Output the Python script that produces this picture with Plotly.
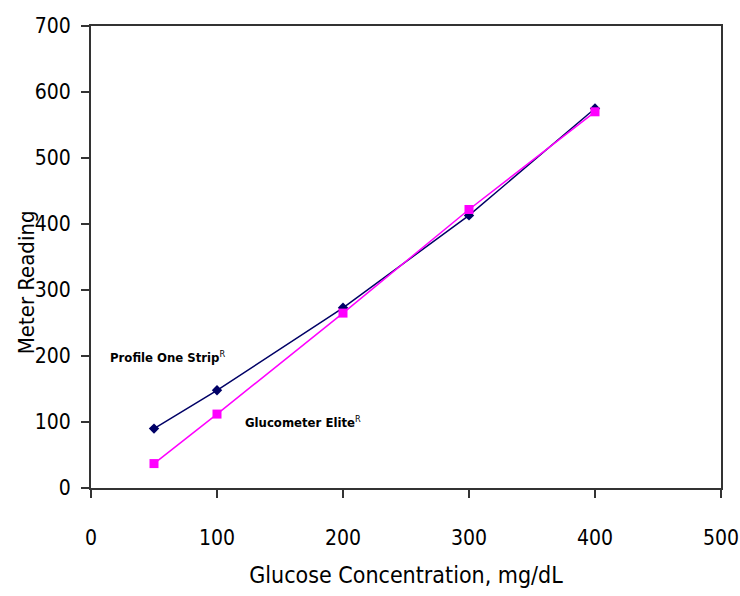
import plotly.graph_objects as go

conc = [50, 100, 200, 300, 400]
profile_one = [90, 148, 273, 413, 575]
glucometer_elite = [37, 112, 265, 422, 570]

x_ticks = [0, 100, 200, 300, 400, 500]
y_ticks = [0, 100, 200, 300, 400, 500, 600, 700]

FONT = "DejaVu Sans Condensed, Liberation Sans Narrow, Arial Narrow, sans-serif"

fig = go.Figure()
fig.add_trace(go.Scatter(
    x=conc, y=profile_one, mode="lines+markers", name="Profile One Strip",
    line=dict(color="#000066", width=1.5),
    marker=dict(symbol="diamond", size=8, color="#000066"),
))
fig.add_trace(go.Scatter(
    x=conc, y=glucometer_elite, mode="lines+markers", name="Glucometer Elite",
    line=dict(color="#FF00FF", width=1.5),
    marker=dict(symbol="square", size=9, color="#FF00FF"),
))

fig.add_annotation(x=61, y=198, xref="x", yref="y", showarrow=False,
                   text="<b>Profile One Strip</b><sup>R</sup>",
                   font=dict(family=FONT, size=13, color="#000000"))
fig.add_annotation(x=168, y=100, xref="x", yref="y", showarrow=False,
                   text="<b>Glucometer Elite</b><sup>R</sup>",
                   font=dict(family=FONT, size=13, color="#000000"))
fig.add_annotation(x=-0.101, y=0.446, xref="paper", yref="paper", xanchor="center", yanchor="middle",
                   showarrow=False, textangle=-90, text="Meter Reading",
                   font=dict(family=FONT, size=22, color="#000000"))

axis_common = dict(
    showgrid=False, zeroline=False, showline=True, linecolor="#333333", linewidth=2,
    mirror=True, ticks="outside", ticklen=8, tickwidth=2, tickcolor="#333333",
    tickfont=dict(family=FONT, size=21, color="#000000"),
    ticklabeloverflow="allow", automargin=False,
)

fig.update_layout(
    width=740, height=596,
    margin=dict(l=91, r=19, t=26, b=108),
    paper_bgcolor="white", plot_bgcolor="white",
    showlegend=False,
    xaxis=dict(range=[0, 500], tickvals=x_ticks, ticklabelstandoff=22,
               title=dict(text="Glucose Concentration, mg/dL",
                          font=dict(family=FONT, size=23, color="#000000"), standoff=18),
               **axis_common),
    yaxis=dict(range=[0, 700], tickvals=y_ticks, ticklabelstandoff=6, **axis_common),
)

fig.write_html("out.html")
